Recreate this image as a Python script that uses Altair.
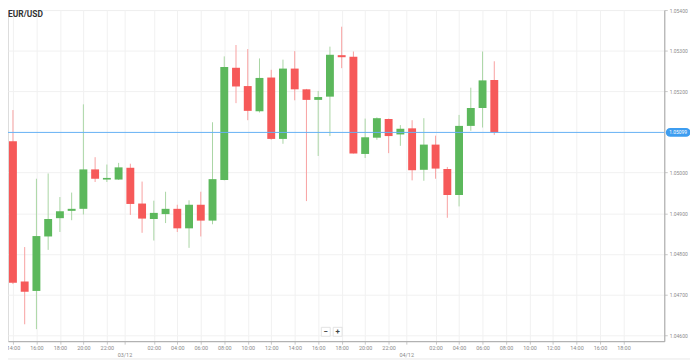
import altair as alt
import pandas as pd

# ---------------- data ----------------
symbol = "EUR/USD"
start_time = "2024-12-02 14:00"
opens = [1.05077, 1.04732, 1.04709, 1.04843, 1.04888, 1.04906, 1.04911, 1.05008, 1.04983, 1.04983,
         1.05012, 1.04924, 1.04886, 1.04898, 1.04911, 1.04863, 1.04921, 1.04882, 1.04982, 1.05258,
         1.05213, 1.05151, 1.05234, 1.05083, 1.05256, 1.05205, 1.05179, 1.05187, 1.05289, 1.05285,
         1.05046, 1.05086, 1.05132, 1.05094, 1.05109, 1.05007, 1.05069, 1.05009, 1.04945, 1.05115,
         1.05159, 1.05228]
highs = [1.05154, 1.04817, 1.04985, 1.04998, 1.04940, 1.04951, 1.05168, 1.05038, 1.05020, 1.05024,
         1.05022, 1.04978, 1.04931, 1.04953, 1.04921, 1.04932, 1.04953, 1.05124, 1.05286, 1.05314,
         1.05304, 1.05281, 1.05253, 1.05278, 1.05299, 1.05206, 1.05201, 1.05310, 1.05359, 1.05298,
         1.05133, 1.05136, 1.05133, 1.05117, 1.05129, 1.05134, 1.05091, 1.05014, 1.05142, 1.05209,
         1.05298, 1.05274]
lows = [1.04726, 1.04627, 1.04615, 1.04810, 1.04854, 1.04883, 1.04897, 1.04977, 1.04977, 1.04982,
        1.04896, 1.04852, 1.04833, 1.04876, 1.04854, 1.04815, 1.04843, 1.04873, 1.04981, 1.05171,
        1.05129, 1.05148, 1.05081, 1.05071, 1.05178, 1.04930, 1.05041, 1.05090, 1.05257, 1.05047,
        1.05036, 1.05081, 1.05048, 1.05066, 1.04981, 1.04980, 1.04985, 1.04889, 1.04917, 1.05103,
        1.05111, 1.05093]
closes = [1.04729, 1.04707, 1.04844, 1.04886, 1.04905, 1.04911, 1.05008, 1.04985, 1.04987, 1.05013,
          1.04923, 1.04887, 1.04901, 1.04911, 1.04863, 1.04921, 1.04882, 1.04984, 1.05260, 1.05212,
          1.05152, 1.05233, 1.05083, 1.05256, 1.05205, 1.05179, 1.05186, 1.05290, 1.05284, 1.05047,
          1.05087, 1.05134, 1.05090, 1.05108, 1.05006, 1.05069, 1.05010, 1.04945, 1.05115, 1.05159,
          1.05227, 1.05099]
current_price = 1.05099
price_label = "1.05099"
y_ticks = [1.046, 1.047, 1.048, 1.049, 1.050, 1.052, 1.053, 1.054]   # 1.05100 sits behind the price tag
x_tick_times = ["2024-12-02 14:00", "2024-12-02 16:00", "2024-12-02 18:00", "2024-12-02 20:00",
                "2024-12-02 22:00", "2024-12-02 23:30",
                "2024-12-03 02:00", "2024-12-03 04:00", "2024-12-03 06:00", "2024-12-03 08:00",
                "2024-12-03 10:00", "2024-12-03 12:00", "2024-12-03 14:00", "2024-12-03 16:00",
                "2024-12-03 18:00", "2024-12-03 20:00", "2024-12-03 22:00", "2024-12-03 23:30",
                "2024-12-04 02:00", "2024-12-04 04:00", "2024-12-04 06:00", "2024-12-04 08:00",
                "2024-12-04 10:00", "2024-12-04 12:00", "2024-12-04 14:00", "2024-12-04 16:00",
                "2024-12-04 18:00"]
x_domain = ["2024-12-02 14:00", "2024-12-04 21:03:36"]
y_domain = [1.045854, 1.054]

# ---------------- helpers ----------------
def to_ms(s):
    return int(pd.Timestamp(s, tz="UTC").value // 10**6)


def to_dt(s):
    ts = pd.Timestamp(s)
    return alt.DateTime(year=ts.year, month=ts.month, date=ts.day, hours=ts.hour,
                        minutes=ts.minute, utc=True)


times_ms = [to_ms(t) for t in pd.date_range(start_time, periods=len(opens), freq="h")]
df = pd.DataFrame({"t": times_ms, "open": opens, "high": highs, "low": lows, "close": closes})
df["dir"] = ["up" if c >= o else "down" for o, c in zip(opens, closes)]

RED = "#f65959"
GREEN = "#5cb85c"
RED_WICK = "#f8a1a1"
GREEN_WICK = "#a9d6a4"
FONT = "Roboto"

xscale = alt.Scale(type="utc", domain=[to_ms(x_domain[0]), to_ms(x_domain[1])])
yscale = alt.Scale(domain=y_domain, zero=False, nice=False)

label_expr = ("utcFormat(datum.value, '%M') == '30' ? "
              "['', utcFormat(datum.value + 1800000, '%d/%m')] : utcFormat(datum.value, '%H:%M')")

x_axis = alt.Axis(values=[to_dt(v) for v in x_tick_times], labelExpr=label_expr, title=None,
                  grid=True, gridColor="#f1f1f1", domainColor="#a8a8a8", tickColor="#c8c8c8",
                  tickSize=3, labelFontSize=5.5, labelColor="#8a8a8a", labelFont=FONT,
                  labelPadding=1, labelOverlap=False, labelFlush=True, labelLineHeight=7.5)
y_axis = alt.Axis(orient="right", values=y_ticks, format=".5f", title=None, grid=True,
                  gridColor="#f1f1f1", domainColor="#a8a8a8", tickColor="#c8c8c8", tickSize=3,
                  labelFontSize=5, labelColor="#8a8a8a", labelFont=FONT, labelPadding=2,
                  labelFlush=False)

X = alt.X("t:T", scale=xscale, axis=x_axis)

base = alt.Chart(df)

wicks = base.mark_rule(strokeWidth=1).encode(
    x=X,
    y=alt.Y("low:Q", scale=yscale, axis=y_axis),
    y2="high:Q",
    color=alt.Color("dir:N", scale=alt.Scale(domain=["up", "down"], range=[GREEN_WICK, RED_WICK]),
                    legend=None),
)

bodies = base.mark_bar(width=8).encode(
    x=X,
    y=alt.Y("open:Q", scale=yscale, axis=y_axis),
    y2="close:Q",
    fill=alt.Fill("dir:N", scale=alt.Scale(domain=["up", "down"], range=[GREEN, RED]), legend=None),
)

price_df = pd.DataFrame({"p": [current_price], "label": [price_label]})
price_line = alt.Chart(price_df).mark_rule(color="#64b0f4", strokeWidth=1).encode(
    y=alt.Y("p:Q", scale=yscale, axis=y_axis))
price_box = alt.Chart(price_df).mark_rule(color="#3d9df0", strokeWidth=9, strokeCap="round",
                                          clip=False).encode(
    y=alt.Y("p:Q", scale=yscale, axis=y_axis), x=alt.value(670), x2=alt.value(686))
price_text = alt.Chart(price_df).mark_text(color="white", fontSize=5, font=FONT, align="center",
                                           baseline="middle", clip=False).encode(
    y=alt.Y("p:Q", scale=yscale, axis=y_axis), x=alt.value(678), text="label:N")

title_df = pd.DataFrame({"s": [symbol]})
title = alt.Chart(title_df).mark_text(font=FONT, fontSize=8.5, fontWeight="bold", color="#333333",
                                      align="left", baseline="middle").encode(
    x=alt.value(0), y=alt.value(4), text="s:N")

btn_df = pd.DataFrame({"s": ["\u2212", "+"], "x0": [317, 329], "x1": [326, 338], "xc": [321.5, 333.5]})
buttons = alt.Chart(btn_df).mark_rect(fill="white", stroke="#dddddd", strokeWidth=0.8, clip=False).encode(
    x=alt.X("x0:Q", scale=None), x2="x1:Q", y=alt.value(321), y2=alt.value(330))
btn_text = alt.Chart(btn_df).mark_text(font=FONT, fontSize=8, fontWeight="bold", color="#444444",
                                       align="center", baseline="middle", clip=False).encode(
    x=alt.X("xc:Q", scale=None), y=alt.value(325.5), text="s:N")

border = alt.Chart(price_df).mark_rule(color="#e8e8e8", strokeWidth=1, clip=False).encode(
    x=alt.value(0), x2=alt.value(690), y=alt.value(353))

chart = alt.layer(wicks, bodies, price_line, price_box, price_text, title, buttons, btn_text,
                  border).resolve_scale(color="independent", fill="independent").properties(
    width=664, height=335, autosize="none",
    padding={"left": 0, "top": 0, "right": 26, "bottom": 20},
).configure_view(strokeWidth=0).configure(background="white")

chart.save("out.html", embed_options={"renderer": "svg", "actions": False})
